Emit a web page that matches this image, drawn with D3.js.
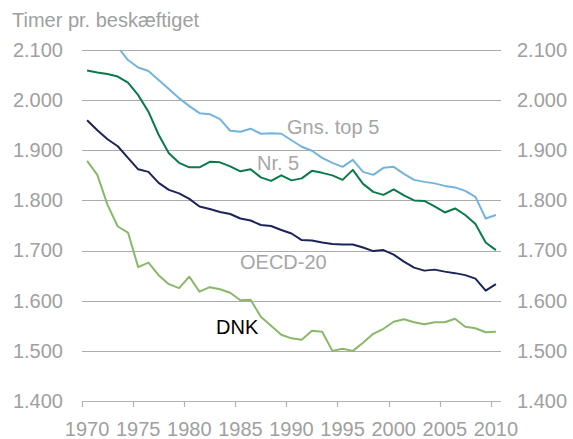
<!DOCTYPE html>
<html>
<head>
<meta charset="utf-8">
<script src="https://cdn.jsdelivr.net/npm/d3@7"></script>
<style>
  body { margin: 0; background: #fff; }
  svg text { font-family: "Liberation Sans", Arial, sans-serif; }
</style>
</head>
<body>
<svg id="chart"></svg>
<script>
// data
const years = d3.range(1970, 2011);
const xTickYears = [1970, 1975, 1980, 1985, 1990, 1995, 2000, 2005, 2010];
const yTicks = [1400, 1500, 1600, 1700, 1800, 1900, 2000, 2100];

const gnsTop5 = [2165, 2150, 2130, 2106, 2080, 2065, 2058, 2040, 2022, 2004,
  1988, 1974, 1972, 1962, 1939, 1937, 1943, 1933, 1934, 1933,
  1920, 1907, 1899, 1885, 1875, 1867, 1881, 1857, 1851, 1865,
  1867, 1853, 1841, 1837, 1834, 1829, 1826, 1819, 1807, 1764, 1771];
const nr5 = [2059, 2055, 2052, 2047, 2035, 2010, 1977, 1931, 1894, 1875,
  1866, 1866, 1877, 1876, 1868, 1858, 1862, 1846, 1839, 1850,
  1840, 1844, 1859, 1855, 1850, 1841, 1861, 1833, 1817, 1811,
  1822, 1810, 1800, 1799, 1788, 1776, 1784, 1771, 1753, 1716, 1701];
const oecd20 = [1960, 1940, 1922, 1908, 1885, 1862, 1857, 1835, 1821, 1814,
  1803, 1788, 1783, 1777, 1773, 1764, 1760, 1751, 1749, 1741,
  1734, 1721, 1720, 1716, 1713, 1712, 1712, 1706, 1699, 1701,
  1692, 1678, 1666, 1660, 1662, 1658, 1655, 1651, 1644, 1620, 1633];
const dnk = [1879, 1851, 1791, 1748, 1736, 1667, 1676, 1651, 1633, 1625,
  1648, 1618, 1627, 1623, 1616, 1601, 1602, 1568, 1550, 1532,
  1525, 1522, 1540, 1538, 1500, 1504, 1500, 1516, 1534, 1544,
  1558, 1563, 1557, 1553, 1557, 1557, 1564, 1548, 1545, 1537, 1538];

const series = [
  { name: "Gns. top 5", values: gnsTop5, color: "#74b4dc", lx: 287, ly: 134, lc: "#a6a6a6" },
  { name: "Nr. 5", values: nr5, color: "#0b7a4b", lx: 257, ly: 170, lc: "#a6a6a6" },
  { name: "OECD-20", values: oecd20, color: "#1c2457", lx: 240, ly: 269, lc: "#a6a6a6" },
  { name: "DNK", values: dnk, color: "#8ab86b", lx: 216, ly: 334, lc: "#000" }
];

const width = 573, height = 439;
const svg = d3.select("#chart").attr("width", width).attr("height", height);

// plot area
const plotLeft = 82, plotRight = 501, plotTop = 50, plotBottom = 401;

const x = d3.scaleBand().domain(years).range([plotLeft, plotRight]);
const y = d3.scaleLinear().domain([1400, 2100]).range([plotBottom, plotTop]);
const fmt = d3.formatLocale({ decimal: ",", thousands: ".", grouping: [3], currency: ["", ""] }).format(",d");

// gridlines
svg.append("g")
  .selectAll("line")
  .data(yTicks.filter(d => d > 1400))
  .join("line")
  .attr("x1", plotLeft).attr("x2", plotRight)
  .attr("y1", d => Math.round(y(d)) + 0.5).attr("y2", d => Math.round(y(d)) + 0.5)
  .attr("stroke", "#ababab").attr("stroke-width", 1.2);

// y labels both sides
const yl = svg.append("g")
  .attr("transform", `translate(${plotLeft},0)`)
  .call(d3.axisLeft(y).tickValues(yTicks).tickSize(0).tickPadding(19).tickFormat(fmt));
const yr = svg.append("g")
  .attr("transform", `translate(${plotRight},0)`)
  .call(d3.axisRight(y).tickValues(yTicks).tickSize(0).tickPadding(16).tickFormat(fmt));
[yl, yr].forEach(g => {
  g.select(".domain").remove();
  g.selectAll("text").attr("fill", "#a0a0a0").style("font-size", "20px");
});

// x axis (ticks between categories, labels centred on category)
const xa = svg.append("g");
xa.append("line")
  .attr("x1", plotLeft).attr("x2", plotRight)
  .attr("y1", Math.round(y(1400)) + 0.5).attr("y2", Math.round(y(1400)) + 0.5)
  .attr("stroke", "#b3b3b3").attr("stroke-width", 1.2);
xa.selectAll(".tick")
  .data(xTickYears)
  .join("line")
  .attr("class", "tick")
  .attr("x1", d => Math.round(x(d)) + 0.5).attr("x2", d => Math.round(x(d)) + 0.5)
  .attr("y1", Math.round(y(1400))).attr("y2", Math.round(y(1400)) + 6)
  .attr("stroke", "#b3b3b3").attr("stroke-width", 1.2);
xa.selectAll("text")
  .data(xTickYears)
  .join("text")
  .attr("x", d => x(d) + x.bandwidth() / 2)
  .attr("y", 436)
  .attr("text-anchor", "middle")
  .attr("fill", "#a0a0a0")
  .style("font-size", "20px")
  .text(d => d);

// clip so lines stay inside the plot
svg.append("clipPath").attr("id", "plot-clip")
  .append("rect").attr("x", 0).attr("y", plotTop).attr("width", width).attr("height", plotBottom - plotTop);

const line = d3.line()
  .x((d, i) => x(years[i]) + x.bandwidth() / 2)
  .y(d => y(d));

const lines = svg.append("g").attr("clip-path", "url(#plot-clip)");
lines.selectAll("path")
  .data(series.slice().reverse())
  .join("path")
  .attr("d", d => line(d.values))
  .attr("fill", "none")
  .attr("stroke", d => d.color)
  .attr("stroke-width", 2)
  .attr("stroke-linejoin", "round");

// series names
svg.append("g")
  .selectAll("text")
  .data(series)
  .join("text")
  .attr("x", d => d.lx).attr("y", d => d.ly)
  .attr("fill", d => d.lc)
  .style("font-size", "20px")
  .text(d => d.name);

// title
svg.append("text")
  .attr("x", 12).attr("y", 27)
  .attr("fill", "#a0a0a0")
  .style("font-size", "20px")
  .text("Timer pr. beskæftiget");
</script>
</body>
</html>
